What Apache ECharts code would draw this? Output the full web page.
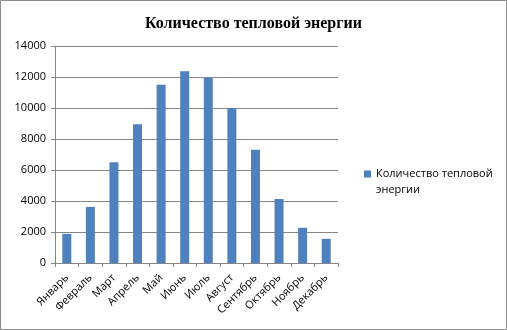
<!DOCTYPE html>
<html>
<head>
<meta charset="utf-8">
<script src="https://cdn.jsdelivr.net/npm/echarts@6/dist/echarts.min.js"></script>
<style>
html,body{margin:0;padding:0;background:#fff;}
#main{width:507px;height:330px;}
</style>
</head>
<body>
<div id="main"></div>
<script>
var months = ['Январь', 'Февраль', 'Март', 'Апрель', 'Май', 'Июнь', 'Июль', 'Август', 'Сентябрь', 'Октябрь', 'Ноябрь', 'Декабрь'];
var heatValues = [1880, 3620, 6500, 8950, 11500, 12370, 11940, 10000, 7300, 4130, 2270, 1560];
var seriesName = 'Количество тепловой энергии';

var myChart = echarts.init(document.getElementById('main'));
var option = {
    animation: false,
    backgroundColor: '#fff',
    title: {
        text: 'Количество тепловой энергии',
        left: 'center',
        top: 11,
        textStyle: {
            fontFamily: 'Liberation Serif',
            fontWeight: 'bold',
            fontSize: 16,
            color: '#000'
        }
    },
    graphic: [{
        type: 'rect',
        shape: {x: 0.5, y: 0.5, width: 506, height: 329},
        style: {fill: 'none', stroke: '#8c8c8c', lineWidth: 1}
    }],
    legend: {
        orient: 'vertical',
        left: 359,
        top: 161,
        itemWidth: 7,
        itemHeight: 23,
        itemGap: 5,
        // square sits at top of the icon box so it lines up with the first text line
        icon: 'path://M0,0H7V7H0Z M0,23H0.01',
        data: [seriesName],
        formatter: function () {
            return 'Количество тепловой\nэнергии';
        },
        textStyle: {
            fontFamily: 'Open Sans',
            fontSize: 11,
            color: '#000',
            lineHeight: 16
        }
    },
    grid: {
        left: 55,
        right: 169,
        top: 46,
        bottom: 67,
        containLabel: false
    },
    xAxis: {
        type: 'category',
        data: months,
        axisLine: {lineStyle: {color: '#868686'}},
        axisTick: {show: true, length: 4, lineStyle: {color: '#868686'}},
        axisLabel: {
            rotate: 45,
            interval: 0,
            margin: 13,
            fontFamily: 'Open Sans',
            fontSize: 11,
            color: '#000'
        }
    },
    yAxis: {
        type: 'value',
        min: 0,
        max: 14000,
        interval: 2000,
        axisLine: {show: true, lineStyle: {color: '#868686'}},
        axisTick: {show: true, length: 4, lineStyle: {color: '#868686'}},
        splitLine: {lineStyle: {color: '#868686'}},
        axisLabel: {
            margin: 9,
            fontFamily: 'Open Sans',
            fontSize: 11,
            color: '#000',
            formatter: function (v) { return String(v); }
        }
    },
    series: [{
        name: seriesName,
        type: 'bar',
        data: heatValues,
        barWidth: 9,
        itemStyle: {color: '#4F81BD'}
    }]
};
myChart.setOption(option);
</script>
</body>
</html>
